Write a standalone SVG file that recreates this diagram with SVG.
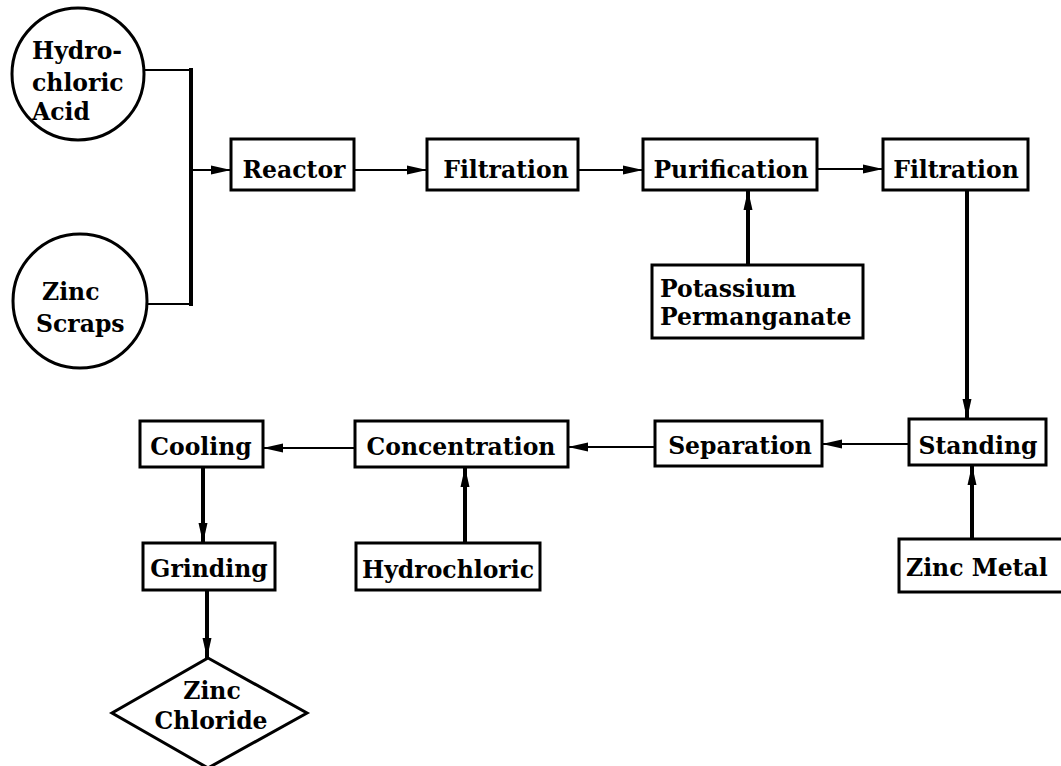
<svg xmlns="http://www.w3.org/2000/svg" width="1061" height="766" viewBox="0 0 1061 766">
<defs>
<style>
.box{fill:#fff;stroke:#000;stroke-width:3}
.t{font-family:"DejaVu Serif","Liberation Serif",serif;font-weight:bold;font-size:23.5px;fill:#000}
.m{text-anchor:middle}
.ln{fill:none;stroke:#000;stroke-width:2}
.th{fill:none;stroke:#000;stroke-width:4}
</style>
<marker id="ah" markerUnits="userSpaceOnUse" markerWidth="22" markerHeight="12" refX="20" refY="6" orient="auto">
<path d="M0,1.5 L20,6 L0,10.5 Z" fill="#000"/>
</marker>
</defs>
<rect width="1061" height="766" fill="#fff"/>
<g id="connectors">
<path class="ln" d="M145,70 H191"/>
<path class="ln" d="M147,304 H191"/>
<path class="th" d="M191,68 V306"/>
<path class="ln" d="M191,170 H231" marker-end="url(#ah)"/>
<path class="ln" d="M354,170 H427" marker-end="url(#ah)"/>
<path class="ln" d="M578,170 H643" marker-end="url(#ah)"/>
<path class="ln" d="M817,169 H883" marker-end="url(#ah)"/>
<path class="th" d="M748,265 V190" marker-end="url(#ah)"/>
<path class="th" d="M967,190 V419" marker-end="url(#ah)"/>
<path class="ln" d="M909,444 H822" marker-end="url(#ah)"/>
<path class="th" d="M972,539 V465" marker-end="url(#ah)"/>
<path class="ln" d="M655,447 H568" marker-end="url(#ah)"/>
<path class="th" d="M465,543 V467" marker-end="url(#ah)"/>
<path class="ln" d="M355,448 H263" marker-end="url(#ah)"/>
<path class="th" d="M203,467 V543" marker-end="url(#ah)"/>
<path class="th" d="M207,590 V658" marker-end="url(#ah)"/>
</g>
<g id="hcl-acid">
<circle class="box" cx="78" cy="74" r="66"/>
<text class="t" x="32" y="59">Hydro-</text>
<text class="t" x="32" y="91">chloric</text>
<text class="t" x="32" y="120">Acid</text>
</g>
<g id="zinc-scraps">
<circle class="box" cx="80" cy="301" r="67"/>
<text class="t" x="42" y="300">Zinc</text>
<text class="t" x="36" y="332">Scraps</text>
</g>
<g id="reactor">
<rect class="box" x="231" y="139" width="123" height="51"/>
<text class="t m" x="294" y="178">Reactor</text>
</g>
<g id="filtration1">
<rect class="box" x="427" y="139" width="151" height="51"/>
<text class="t m" x="506" y="178">Filtration</text>
</g>
<g id="purification">
<rect class="box" x="643" y="139" width="174" height="51"/>
<text class="t m" x="731" y="178">Purification</text>
</g>
<g id="filtration2">
<rect class="box" x="883" y="139" width="145" height="51"/>
<text class="t m" x="956" y="178">Filtration</text>
</g>
<g id="potassium">
<rect class="box" x="652" y="265" width="211" height="73"/>
<text class="t" x="660" y="297">Potassium</text>
<text class="t" x="660" y="325">Permanganate</text>
</g>
<g id="standing">
<rect class="box" x="909" y="419" width="137" height="46"/>
<text class="t m" x="978" y="454">Standing</text>
</g>
<g id="zinc-metal">
<rect class="box" x="899" y="539" width="170" height="53"/>
<text class="t" x="906" y="576">Zinc Metal</text>
</g>
<g id="separation">
<rect class="box" x="655" y="421" width="167" height="45"/>
<text class="t m" x="740" y="454">Separation</text>
</g>
<g id="concentration">
<rect class="box" x="355" y="421" width="213" height="46"/>
<text class="t m" x="461" y="455">Concentration</text>
</g>
<g id="hydrochloric">
<rect class="box" x="356" y="543" width="184" height="47"/>
<text class="t m" x="448" y="578">Hydrochloric</text>
</g>
<g id="cooling">
<rect class="box" x="140" y="421" width="123" height="46"/>
<text class="t m" x="201" y="455">Cooling</text>
</g>
<g id="grinding">
<rect class="box" x="143" y="543" width="132" height="47"/>
<text class="t m" x="209" y="577">Grinding</text>
</g>
<g id="zinc-chloride">
<path class="box" stroke-width="2" d="M208,658 L307,713 L208,768 L112,713 Z"/>
<text class="t m" x="212" y="699">Zinc</text>
<text class="t m" x="211" y="729">Chloride</text>
</g>
</svg>
